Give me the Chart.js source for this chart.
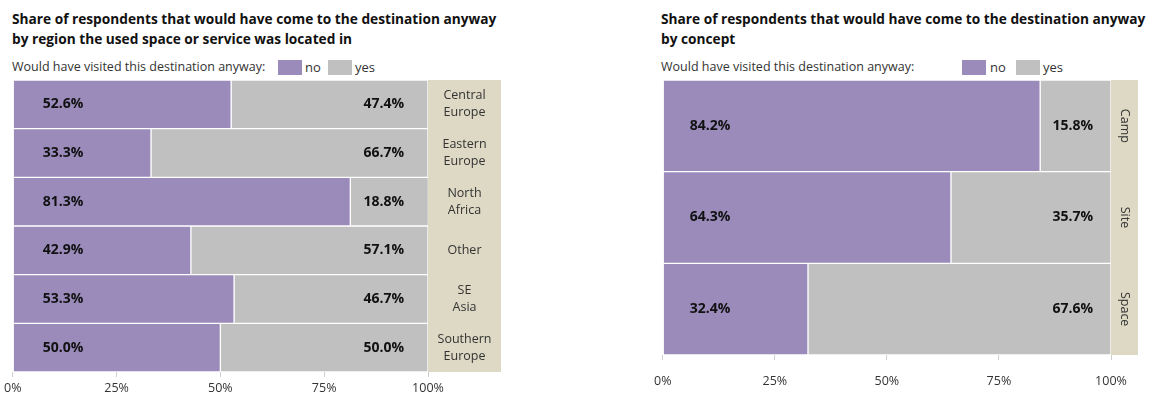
<!DOCTYPE html>
<html lang="en">
<head>
  <meta charset="UTF-8" />
  <title>Would have come anyway</title>
  <script src="https://cdn.jsdelivr.net/npm/chart.js"></script>
  <style>
    body {
      margin: 0;
      width: 1151px;
      height: 394px;
      position: relative;
      background: white;
      font-family: "Open Sans", "Noto Sans", sans-serif;
      color: #222;
      overflow: hidden;
    }
    .title {
      position: absolute;
      top: 9px;
      font-size: 13.7px;
      font-weight: bold;
      line-height: 20px;
      color: #111;
      white-space: nowrap;
    }
    .legend {
      position: absolute;
      top: 58px;
      font-size: 12.5px;
      line-height: 18px;
      color: #333;
      white-space: nowrap;
    }
    .swatch {
      position: absolute;
      top: 2px;
      width: 24px;
      height: 15px;
    }
    .legend span.lab { position: absolute; top: 0; font-size: 13px; }
    canvas { position: absolute; }
  </style>
</head>
<body>
  <div class="title" style="left:12px">Share of respondents that would have come to the destination anyway<br>by region the used space or service was located in</div>
  <div class="legend" style="left:12px">Would have visited this destination anyway:
    <div class="swatch" style="left:266px;background:#9a8bbb"></div><span class="lab" style="left:293px">no</span>
    <div class="swatch" style="left:316px;background:#c0c0c0"></div><span class="lab" style="left:343px">yes</span>
  </div>

  <div class="title" style="left:661px">Share of respondents that would have come to the destination anyway<br>by concept</div>
  <div class="legend" style="left:661px">Would have visited this destination anyway:
    <div class="swatch" style="left:301px;background:#9a8bbb"></div><span class="lab" style="left:329px">no</span>
    <div class="swatch" style="left:355px;background:#c0c0c0"></div><span class="lab" style="left:382px">yes</span>
  </div>

  <canvas id="regionChart" width="515" height="318" style="left:0;top:76px"></canvas>
  <canvas id="conceptChart" width="511" height="318" style="left:640px;top:76px"></canvas>

  <script>
    // answers by region
    const regions = [["Central", "Europe"], ["Eastern", "Europe"], ["North", "Africa"], ["Other"], ["SE", "Asia"], ["Southern", "Europe"]];
    const regionNo = [52.6, 33.3, 81.3, 42.9, 53.3, 50.0];
    const regionYes = [47.4, 66.7, 18.8, 57.1, 46.7, 50.0];

    // answers by concept
    const concepts = ["Camp", "Site", "Space"];
    const conceptNo = [84.2, 64.3, 32.4];
    const conceptYes = [15.8, 35.7, 67.6];

    const xTicks = [0, 25, 50, 75, 100];

    const NO_COLOR = "#9a8bbb";
    const YES_COLOR = "#c0c0c0";
    const STRIP_COLOR = "#ddd9c4";
    const FONT = "'Open Sans', 'Noto Sans', sans-serif";

    // facet strip on the right of the plot + the percentage labels inside the bars
    const facetPlugin = {
      id: "facetStrip",
      afterDatasetsDraw(chart, args, opts) {
        const { ctx, chartArea } = chart;
        const metaNo = chart.getDatasetMeta(0);
        const metaYes = chart.getDatasetMeta(1);
        ctx.save();

        ctx.fillStyle = STRIP_COLOR;
        ctx.fillRect(chartArea.right, chartArea.top, opts.width, chartArea.bottom - chartArea.top);

        const cx = chartArea.right + opts.width / 2;
        ctx.fillStyle = "#333";
        ctx.font = "12.5px " + FONT;
        ctx.textAlign = "center";
        ctx.textBaseline = "middle";
        chart.data.labels.forEach((lab, i) => {
          const y = metaNo.data[i].y;
          const lines = Array.isArray(lab) ? lab : [lab];
          if (opts.rotate) {
            ctx.save();
            ctx.translate(cx, y);
            ctx.rotate(Math.PI / 2);
            ctx.fillText(lines.join(" "), 0, 0);
            ctx.restore();
          } else {
            const lh = 17;
            lines.forEach((ln, k) => {
              ctx.fillText(ln, cx, y + (k - (lines.length - 1) / 2) * lh);
            });
          }
        });

        ctx.font = "bold 14px " + FONT;
        ctx.fillStyle = "#111";
        metaNo.data.forEach((bar, i) => {
          const v = chart.data.datasets[0].data[i];
          ctx.textAlign = "left";
          ctx.fillText(v.toFixed(1) + "%", chartArea.left + opts.noOffset, bar.y);
          const w = chart.data.datasets[1].data[i];
          ctx.textAlign = "right";
          ctx.fillText(w.toFixed(1) + "%", chartArea.right - opts.yesOffset, metaYes.data[i].y);
        });
        ctx.restore();
      }
    };

    function makeChart(id, labels, noVals, yesVals, pad, axisHeight, tickPad, strip) {
      return new Chart(document.getElementById(id), {
        type: "bar",
        data: {
          labels: labels,
          datasets: [
            { label: "no", data: noVals, backgroundColor: NO_COLOR, borderColor: "#ffffff", borderWidth: 1, borderSkipped: false },
            { label: "yes", data: yesVals, backgroundColor: YES_COLOR, borderColor: "#ffffff", borderWidth: 1, borderSkipped: false }
          ]
        },
        options: {
          indexAxis: "y",
          responsive: false,
          animation: false,
          barPercentage: 1,
          categoryPercentage: 1,
          layout: { padding: pad },
          plugins: {
            legend: { display: false },
            tooltip: { enabled: false },
            facetStrip: strip
          },
          scales: {
            x: {
              stacked: true,
              min: 0,
              max: 100,
              afterBuildTicks: (s) => { s.ticks = xTicks.map(v => ({ value: v })); },
              afterFit: (s) => { s.height = axisHeight; },
              ticks: {
                padding: tickPad,
                color: "#333",
                font: { family: FONT, size: 12.5 },
                callback: (v) => v + "%"
              },
              grid: { drawOnChartArea: false, tickLength: 5, color: "#cfcfcf" },
              border: { display: false }
            },
            y: {
              stacked: true,
              display: false
            }
          }
        },
        plugins: [facetPlugin]
      });
    }

    makeChart("regionChart", regions, regionNo, regionYes,
      { left: 12, right: 87, top: 4, bottom: 0 }, 22, 4,
      { width: 73, rotate: false, noOffset: 30, yesOffset: 24 });

    makeChart("conceptChart", concepts, conceptNo, conceptYes,
      { left: 21, right: 40, top: 4, bottom: 0 }, 39, 14,
      { width: 27, rotate: true, noOffset: 27, yesOffset: 18 });
  </script>
</body>
</html>
